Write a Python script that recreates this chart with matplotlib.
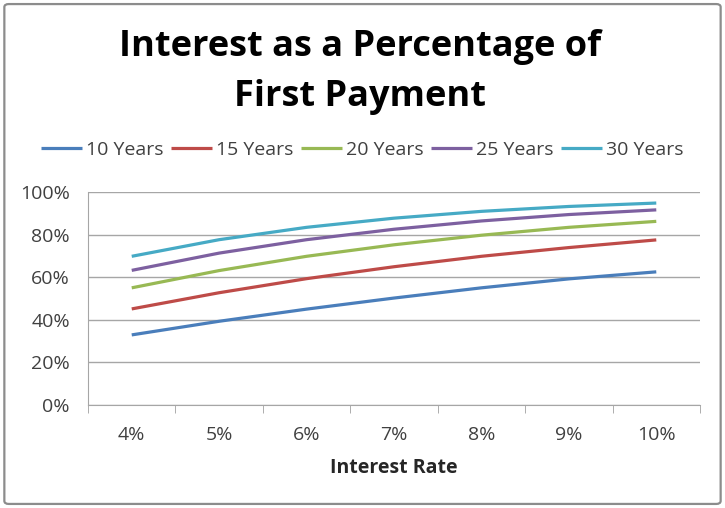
import matplotlib
matplotlib.use("Agg")
import matplotlib.pyplot as plt
from matplotlib.patches import FancyBboxPatch

plt.rcParams["font.family"] = ["Open Sans", "DejaVu Sans"]

rates = ["4%", "5%", "6%", "7%", "8%", "9%", "10%"]
years_10 = [32.9, 39.3, 45.0, 50.2, 55.0, 59.2, 62.5]
years_15 = [45.1, 52.7, 59.3, 64.9, 69.8, 73.9, 77.5]
years_20 = [55.0, 63.1, 69.8, 75.2, 79.7, 83.4, 86.2]
years_25 = [63.2, 71.3, 77.6, 82.5, 86.4, 89.4, 91.6]
years_30 = [69.8, 77.6, 83.4, 87.7, 90.9, 93.2, 94.8]

series = [
    ("10 Years", years_10, "#4a7ebb"),
    ("15 Years", years_15, "#be4b48"),
    ("20 Years", years_20, "#98b954"),
    ("25 Years", years_25, "#7d60a0"),
    ("30 Years", years_30, "#46aac5"),
]

fig = plt.figure(figsize=(7.25, 5.08), dpi=100)

# outer frame
frame = FancyBboxPatch((0.006, 0.008), 0.988, 0.984,
                       boxstyle="round,pad=0,rounding_size=0.006",
                       transform=fig.transFigure, facecolor="none",
                       edgecolor="#8c8c8c", linewidth=1.6, zorder=-1)
fig.patches.append(frame)

ax = fig.add_axes([0.1214, 0.2028, 0.8441, 0.4193])
x = list(range(len(rates)))
for name, vals, col in series:
    ax.plot(x, vals, color=col, linewidth=2.3, label=name,
            solid_capstyle="butt")

ax.set_xlim(-0.5, len(rates) - 0.5)
ax.set_ylim(0, 100)
ax.set_yticks([0, 20, 40, 60, 80, 100])
ax.set_yticklabels([f"{v}%" for v in range(0, 101, 20)])
ax.set_xticks(x)
ax.set_xticklabels(rates)
ax.set_xticks([i - 0.5 for i in range(len(rates) + 1)], minor=True)
ax.tick_params(axis="x", which="major", length=0, pad=15)
ax.tick_params(axis="x", which="minor", length=6, color="#a0a0a0")
ax.tick_params(axis="y", length=0, pad=13)
ax.tick_params(labelsize=14, labelcolor="#404040")

ax.yaxis.grid(True, color="#a6a6a6", linewidth=1)
ax.set_axisbelow(True)
for s in ["top", "right"]:
    ax.spines[s].set_visible(False)
ax.spines["left"].set_color("#a6a6a6")
ax.spines["bottom"].set_color("#a6a6a6")

ax.set_xlabel("Interest Rate", fontsize=14, fontweight="bold",
              color="#262626", labelpad=10)

fig.text(0.497, 0.858, "Interest as a Percentage of\nFirst Payment",
         ha="center", va="center", fontsize=26, fontweight="bold",
         color="#000000", linespacing=1.5)

fig.legend(loc="center", bbox_to_anchor=(0.5, 0.705), ncol=5,
           frameon=False, fontsize=14, handlelength=2.1,
           handletextpad=0.2, columnspacing=0.4, labelcolor="#404040")

fig.savefig("out.png", dpi=100)
